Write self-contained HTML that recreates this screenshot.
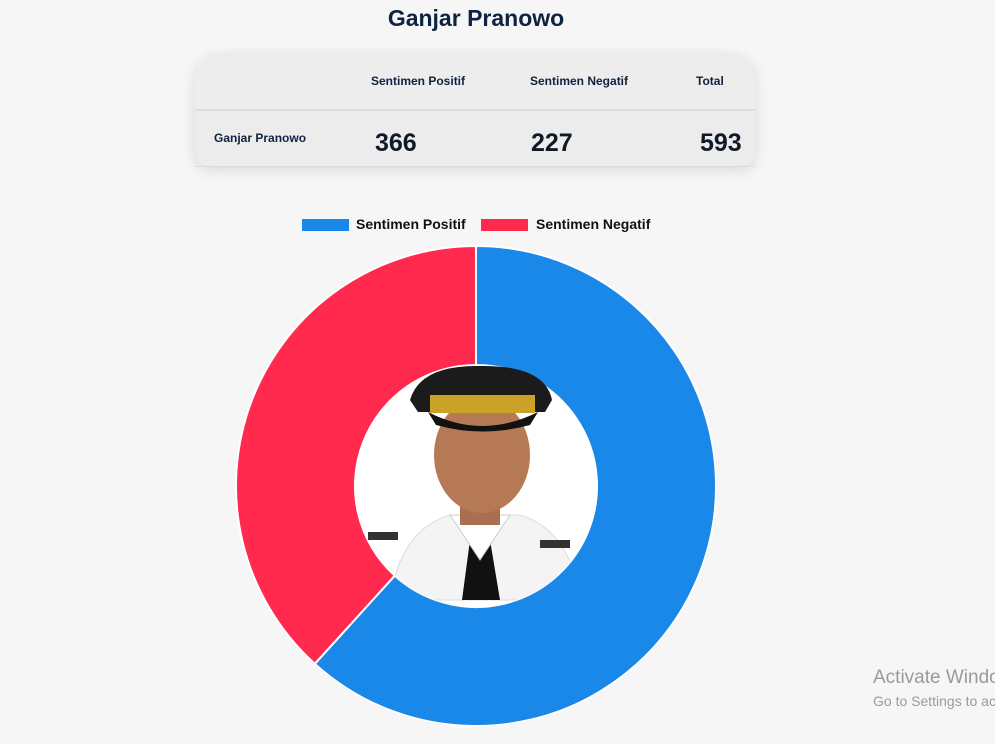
<!DOCTYPE html>
<html><head><meta charset="utf-8">
<style>
body{margin:0;width:995px;height:744px;background:#f6f6f6;font-family:"Liberation Sans",sans-serif;overflow:hidden;position:relative}
.title{position:absolute;left:0;width:952px;top:5px;text-align:center;font-size:23px;font-weight:bold;color:#0d2340}
.card{position:absolute;left:195px;top:53px;width:560px;height:113px;border-radius:24px 24px 14px 14px;background:#ececec;box-shadow:0 4px 14px rgba(0,0,0,0.12);overflow:hidden}
.hdr{position:absolute;top:0;left:0;right:0;height:56px;border-bottom:2px solid #dedede;background:#ededed}
.t{position:absolute;font-weight:bold;color:#0d2340;white-space:nowrap}
.h{font-size:12px;top:21px}
.v{font-size:25px;top:76px;color:#111827}
.line{position:absolute;left:195px;top:166px;width:560px;height:1px;background:#dcdcdc}
.leg{position:absolute;top:219px;width:47px;height:12px}
.lt{position:absolute;top:216px;font-size:14px;font-weight:bold;color:#111;white-space:nowrap}
.wmbox{position:absolute;left:873px;top:660px;width:122px;height:60px;overflow:hidden}
.wm{position:absolute;left:0;color:#9a9a9a;white-space:nowrap}
</style></head><body>
<div class="title">Ganjar Pranowo</div>
<div class="card">
 <div class="hdr"></div>
 <div class="t h" style="left:176px">Sentimen Positif</div>
 <div class="t h" style="left:335px">Sentimen Negatif</div>
 <div class="t h" style="left:501px">Total</div>
 <div class="t" style="left:19px;top:78px;font-size:12px">Ganjar Pranowo</div>
 <div class="t v" style="left:180px">366</div>
 <div class="t v" style="left:336px">227</div>
 <div class="t v" style="left:505px">593</div>
</div>
<div class="line"></div>
<div class="leg" style="left:302px;background:#1a88e8"></div>
<div class="lt" style="left:356px">Sentimen Positif</div>
<div class="leg" style="left:481px;background:#ff2a4e"></div>
<div class="lt" style="left:536px">Sentimen Negatif</div>
<svg id="chart" width="995" height="744" style="position:absolute;left:0;top:0"></svg>
<div class="wmbox">
<div class="wm" style="top:7px;font-size:19px">Activate Windows</div>
<div class="wm" style="top:33px;font-size:14px">Go to Settings to activate Windows.</div>
</div>
<script>
const categories=["Sentimen Positif","Sentimen Negatif"];
const values=[366,227];
const colors=["#1a88e8","#ff2a4e"];
const NS="http://www.w3.org/2000/svg";
const svg=document.getElementById('chart');
const cx=476,cy=486,R=240,r=121;
const total=values.reduce((a,b)=>a+b,0);
function pt(a,rad){return [cx+rad*Math.sin(a),cy-rad*Math.cos(a)];}
let a0=0;
values.forEach((v,i)=>{
 const a1=a0+v/total*2*Math.PI;
 const lg=(a1-a0)>Math.PI?1:0;
 const p1=pt(a0,R),p2=pt(a1,R),p3=pt(a1,r),p4=pt(a0,r);
 const p=document.createElementNS(NS,'path');
 p.setAttribute('d',`M${p1}A${R},${R} 0 ${lg} 1 ${p2}L${p3}A${r},${r} 0 ${lg} 0 ${p4}Z`);
 p.setAttribute('fill',colors[i]);p.setAttribute('stroke','#fff');p.setAttribute('stroke-width','2');
 
 
 svg.appendChild(p);
 a0=a1;
});
const g=document.createElementNS(NS,'g');


g.innerHTML=`<defs><clipPath id="cc"><circle cx="${cx}" cy="${cy}" r="${r}"/></clipPath></defs>
<circle cx="${cx}" cy="${cy}" r="${r}" fill="#fff"/>
<g clip-path="url(#cc)">
<path d="M390 600 Q400 530 450 515 L520 515 Q570 530 580 600 Z" fill="#f4f4f4" stroke="#ddd"/>
<path d="M470 540 L490 540 L500 600 L462 600 Z" fill="#111"/>
<path d="M450 515 L480 560 L510 515 Z" fill="#fff" stroke="#ccc"/>
<rect x="460" y="480" width="40" height="45" fill="#a8704e"/>
</g>
<ellipse cx="482" cy="455" rx="48" ry="58" fill="#b57a55"/>
<path d="M410 400 Q420 365 480 366 Q545 365 552 400 L545 412 L418 412 Z" fill="#1b1b1b"/>
<rect x="430" y="395" width="105" height="18" fill="#c9a227"/>
<path d="M428 412 Q482 440 538 412 L530 425 Q482 438 436 425 Z" fill="#111"/>
<rect x="368" y="532" width="30" height="8" fill="#333"/><rect x="540" y="540" width="30" height="8" fill="#333"/>`;
svg.appendChild(g);
</script>
</body></html>
